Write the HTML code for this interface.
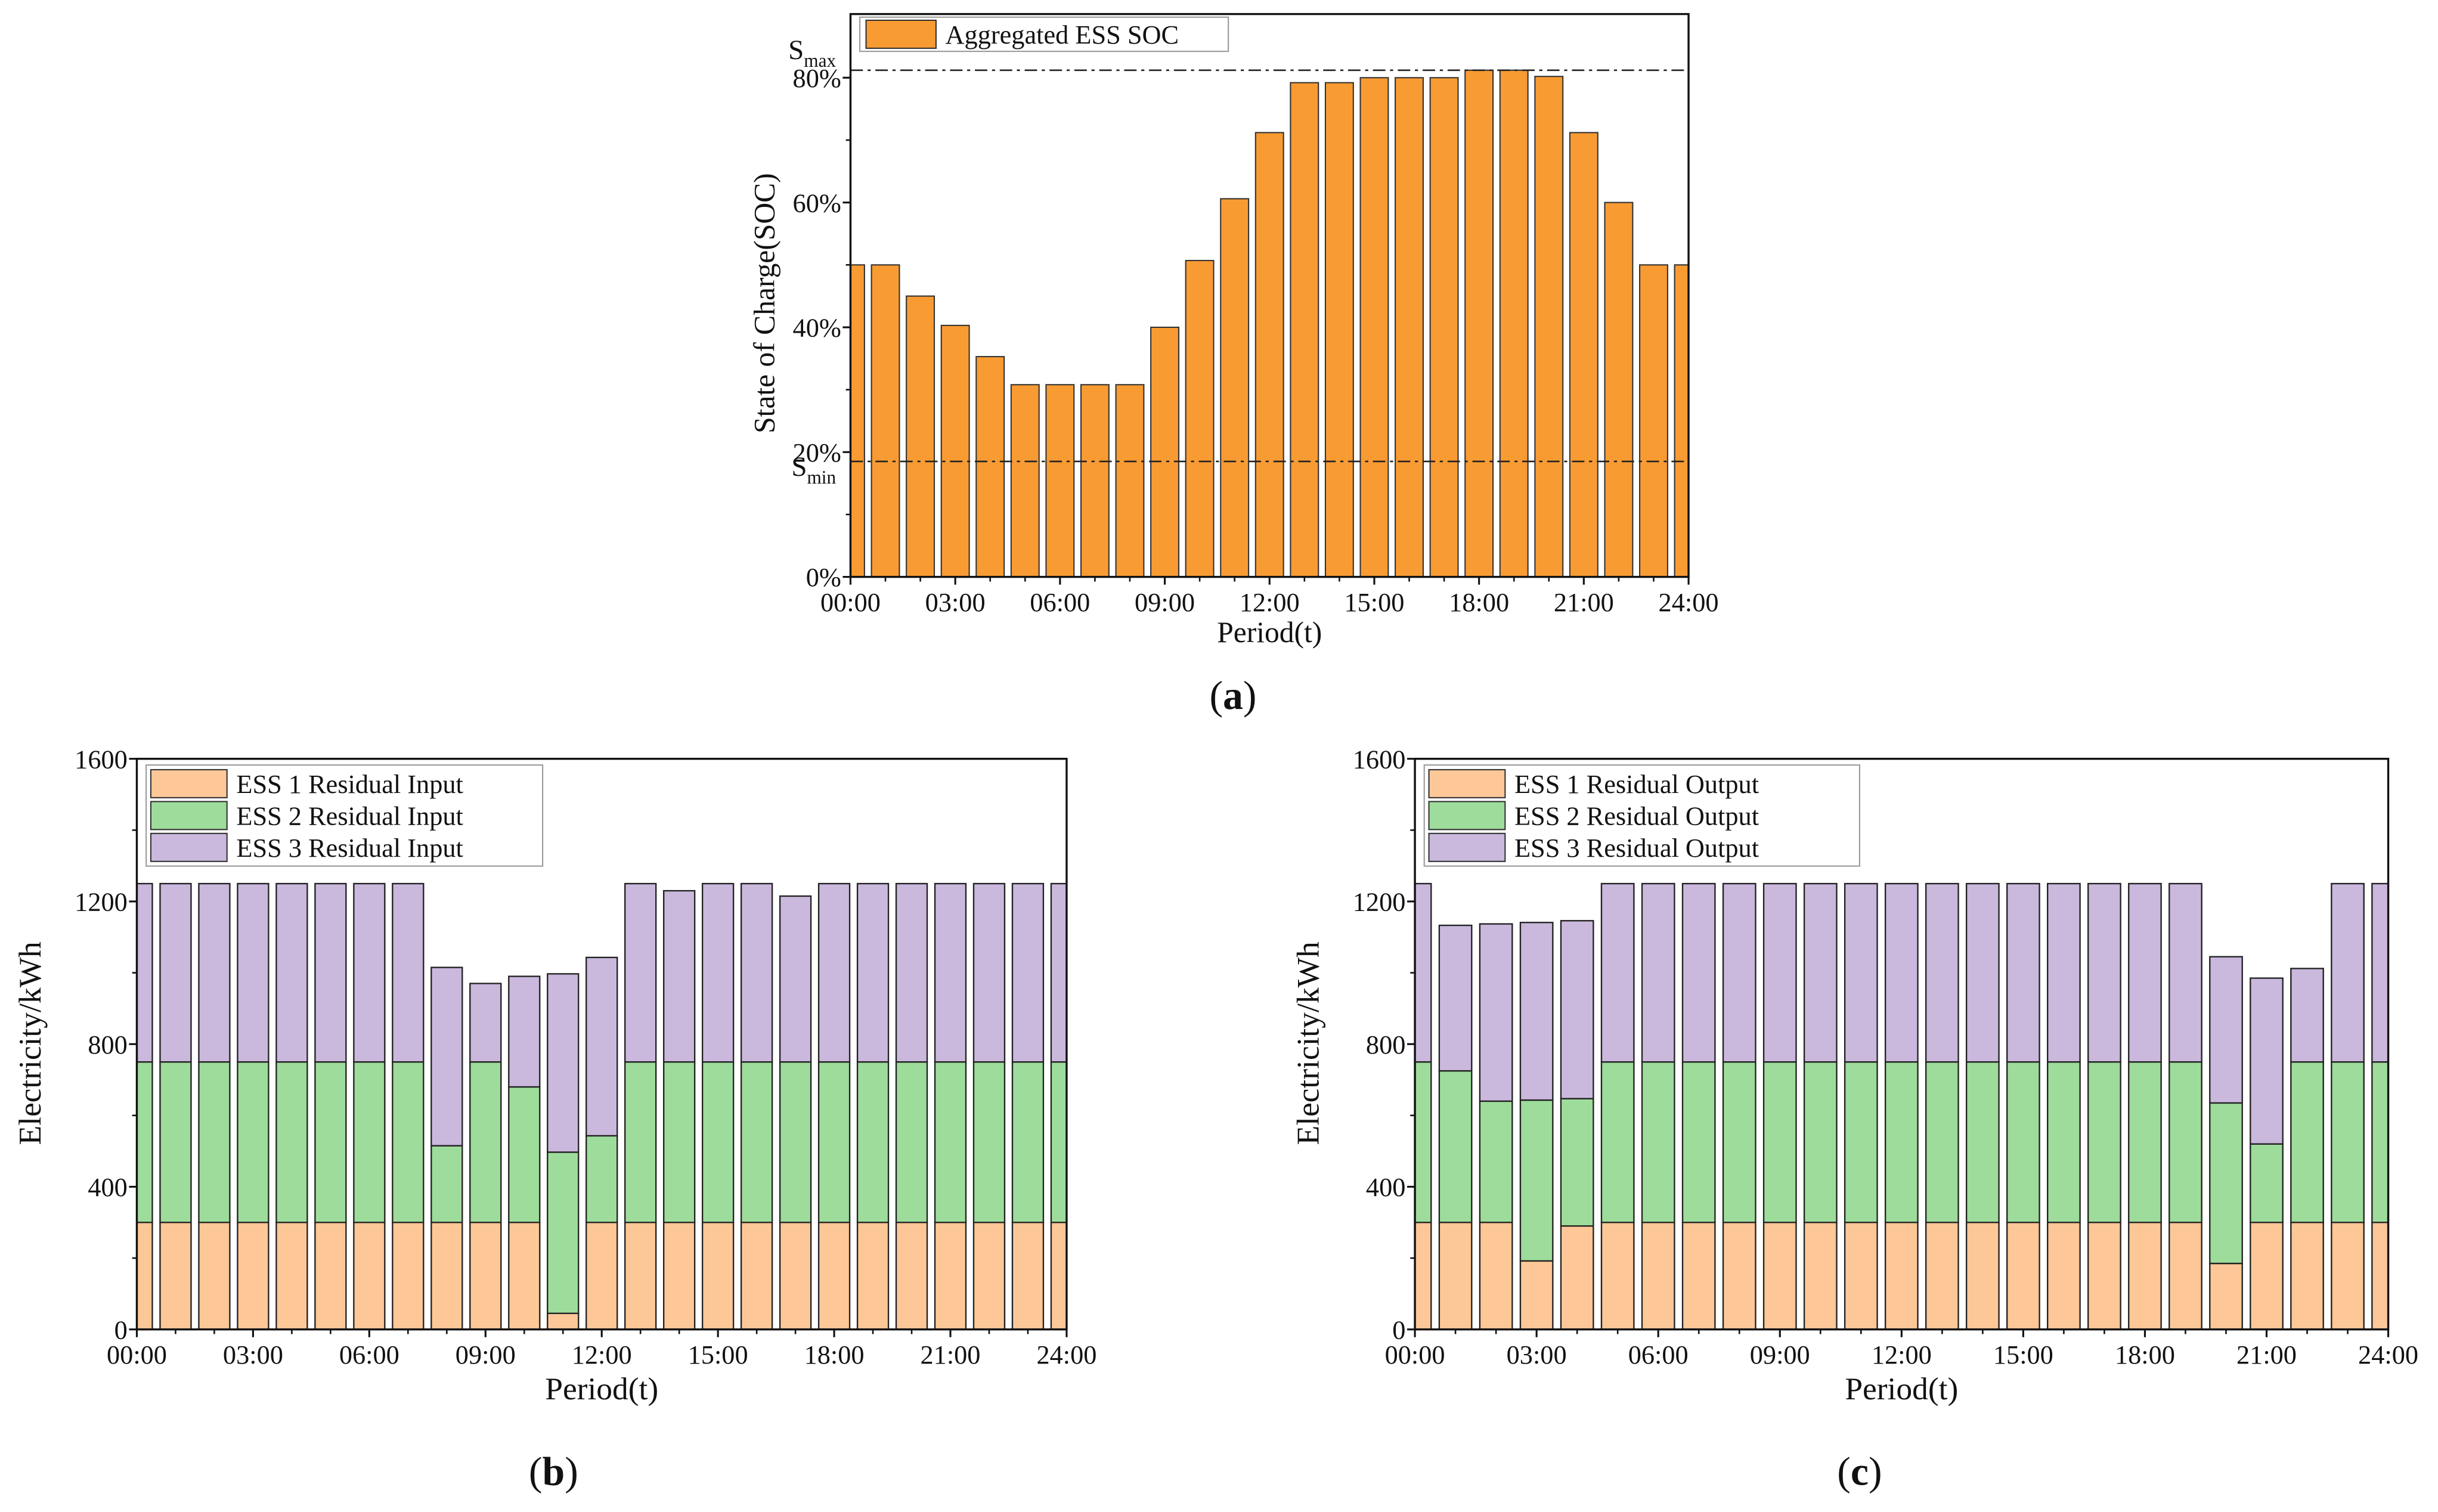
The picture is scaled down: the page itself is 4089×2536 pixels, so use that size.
<!DOCTYPE html>
<html><head><meta charset="utf-8"><style>
html,body{margin:0;padding:0;background:#fff}
svg{display:block}
text{font-family:"Liberation Serif",serif;fill:#111}
</style></head><body>
<svg id="fig" xmlns="http://www.w3.org/2000/svg" width="4089" height="2536" viewBox="0 0 1568 972.4">
<rect width="1568" height="972.4" fill="#fff"/>
</svg>
<script>
const hours = [0,1,2,3,4,5,6,7,8,9,10,11,12,13,14,15,16,17,18,19,20,21,22,23,24];
const xTickLabels = ["00:00","03:00","06:00","09:00","12:00","15:00","18:00","21:00","24:00"];
const socValues = [50,50,45,40.3,35.3,30.8,30.8,30.8,30.8,40,50.7,60.6,71.2,79.2,79.2,80,80,80,81.2,81.2,80.2,71.2,60,50,50];
const socTicks = [0,20,40,60,80];
const sMax = 81.2, sMin = 18.5;
const inEss1 = [300,300,300,300,300,300,300,300,300,300,300,45,300,300,300,300,300,300,300,300,300,300,300,300,300];
const inTop2 = [750,750,750,750,750,750,750,750,515,750,680,497,543,750,750,750,750,750,750,750,750,750,750,750,750];
const inTotal = [1250,1250,1250,1250,1250,1250,1250,1250,1015,970,990,997,1043,1250,1230,1250,1250,1215,1250,1250,1250,1250,1250,1250,1250];
const outEss1 = [300,300,300,192,290,300,300,300,300,300,300,300,300,300,300,300,300,300,300,300,185,300,300,300,300];
const outTop2 = [750,725,640,643,647,750,750,750,750,750,750,750,750,750,750,750,750,750,750,750,635,520,750,750,750];
const outTotal = [1250,1133,1137,1141,1146,1250,1250,1250,1250,1250,1250,1250,1250,1250,1250,1250,1250,1250,1250,1250,1045,985,1012,1250,1250];
const kwTicks = [0,400,800,1200,1600];

const NS="http://www.w3.org/2000/svg";
const svg=document.getElementById('fig');
function el(tag,attrs,parent,txt){const e=document.createElementNS(NS,tag);for(const k in attrs)e.setAttribute(k,attrs[k]);if(txt!==undefined)e.textContent=txt;(parent||svg).appendChild(e);return e;}

function drawAxes(g,L,R,T,B,xs,ys,yTicks,yFmt,minorY){
  el('rect',{x:L,y:T,width:R-L,height:B-T,fill:'none',stroke:'#111','stroke-width':1.3},g);
  xTickLabels.forEach((lab,i)=>{const x=xs(i*3);
    el('line',{x1:x,y1:B,x2:x,y2:B+5,stroke:'#111','stroke-width':1.2},g);
    const t=el('text',{x:x,y:B+22,'font-size':17,'text-anchor':'middle'},g,lab);
    
    
  });
  hours.forEach(h=>{if(h%3){const x=xs(h);el('line',{x1:x,y1:B,x2:x,y2:B+3,stroke:'#111','stroke-width':1},g);}});
  yTicks.forEach(v=>{const y=ys(v);
    el('line',{x1:L-5,y1:y,x2:L,y2:y,stroke:'#111','stroke-width':1.2},g);
    const t=el('text',{x:L-6,y:y+6,'font-size':17,'text-anchor':'end'},g,yFmt(v));
    
    
  });
  minorY.forEach(v=>{const y=ys(v);el('line',{x1:L-3,y1:y,x2:L,y2:y,stroke:'#111','stroke-width':1},g);});
}

/* ---------- chart (a) ---------- */
(function(){
  const L=547,R=1086,T=9,B=371;
  const xs=h=>L+(R-L)*h/24;
  const ys=v=>B-(B-T)*v/90.2;
  const g=el('g',{});
  
  
  const clip=el('clipPath',{id:'ca'},g);el('rect',{x:L,y:T,width:R-L,height:B-T},clip);
  const bg=el('g',{'clip-path':'url(#ca)'},g);
  const bw=(R-L)/24*0.8;
  socValues.forEach((v,i)=>{
    const b=el('rect',{x:xs(hours[i])-bw/2,y:ys(v),width:bw,height:ys(0)-ys(v),fill:'#F99B33',stroke:'#333','stroke-width':0.8},bg);
    
    
  });
  el('line',{x1:L,y1:ys(sMax),x2:R,y2:ys(sMax),stroke:'#222','stroke-width':1,'stroke-dasharray':'8 3 2 3'},g);
  el('line',{x1:L,y1:ys(sMin),x2:R,y2:ys(sMin),stroke:'#222','stroke-width':1,'stroke-dasharray':'8 3 2 3'},g);
  drawAxes(g,L,R,T,B,xs,ys,socTicks,v=>v+'%',[10,30,50,70]);
  const sm=el('text',{x:507,y:38,'font-size':18},g);sm.innerHTML='S<tspan font-size="12" dy="5">max</tspan>';
  const sn=el('text',{x:509,y:306,'font-size':18},g);sn.innerHTML='S<tspan font-size="12" dy="5">min</tspan>';
  const yt=el('text',{x:0,y:0,'font-size':19,'text-anchor':'middle',transform:'translate(498,195) rotate(-90)'},g,'State of Charge(SOC)');
  
  const xt=el('text',{x:(L+R)/2,y:413,'font-size':19,'text-anchor':'middle'},g,'Period(t)');
  
  const lg=el('g',{},g);
  el('rect',{x:553,y:11,width:237,height:22,fill:'#fff',stroke:'#999','stroke-width':0.8},lg);
  el('rect',{x:557,y:13,width:45,height:18,fill:'#F99B33',stroke:'#333','stroke-width':0.8},lg);
  el('text',{x:608,y:28,'font-size':17},lg,'Aggregated ESS SOC');
  const la=el('text',{x:793,y:456,'font-size':26,'text-anchor':'middle'},g);la.innerHTML='(<tspan font-weight="bold">a</tspan>)';
  
})();

/* ---------- stacked charts ---------- */
function stacked(L,R,name,e1,t2,tot,label,legendW,panel,px){
  const T=488,B=855;
  const xs=h=>L+(R-L)*h/24;
  const ys=v=>B-(B-T)*v/1600;
  const g=el('g',{});
  
  
  const cid='c'+name;
  const clip=el('clipPath',{id:cid},g);el('rect',{x:L,y:T,width:R-L,height:B-T},clip);
  const bg=el('g',{'clip-path':'url(#'+cid+')'},g);
  const bw=(R-L)/24*0.8;
  const cols=['#FDC797','#9DDC9B','#CAB8DD'];
  hours.forEach((h,i)=>{
    const segs=[[0,e1[i]],[e1[i],t2[i]],[t2[i],tot[i]]];
    segs.forEach((s,k)=>{
      const b=el('rect',{x:xs(h)-bw/2,y:ys(s[1]),width:bw,height:ys(s[0])-ys(s[1]),fill:cols[k],stroke:'#222','stroke-width':0.9},bg);
      
      
    });
  });
  drawAxes(g,L,R,T,B,xs,ys,kwTicks,v=>String(v),[200,600,1000,1400]);
  const yt=el('text',{x:0,y:0,'font-size':20.5,'text-anchor':'middle',transform:'translate('+(L-62)+',671) rotate(-90)'},g,'Electricity/kWh');
  
  const xt=el('text',{x:(L+R)/2,y:900,'font-size':20.5,'text-anchor':'middle'},g,'Period(t)');
  
  const lg=el('g',{},g);
  el('rect',{x:L+6,y:492,width:legendW,height:65,fill:'#fff',stroke:'#999','stroke-width':0.8},lg);
  for(let k=0;k<3;k++){
    el('rect',{x:L+9,y:495+k*20.5,width:49,height:18,fill:cols[k],stroke:'#333','stroke-width':0.8},lg);
    el('text',{x:L+64,y:510+k*20.5,'font-size':17},lg,'ESS '+(k+1)+' '+label);
  }
  const pl=el('text',{x:px,y:955,'font-size':26,'text-anchor':'middle'},g);pl.innerHTML='(<tspan font-weight="bold">'+panel+'</tspan>)';
  
}
stacked(88,686,'input-chart',inEss1,inTop2,inTotal,'Residual Input',255,'b',356);
stacked(910,1536,'output-chart',outEss1,outTop2,outTotal,'Residual Output',280,'c',1196);
</script>
</body></html>
